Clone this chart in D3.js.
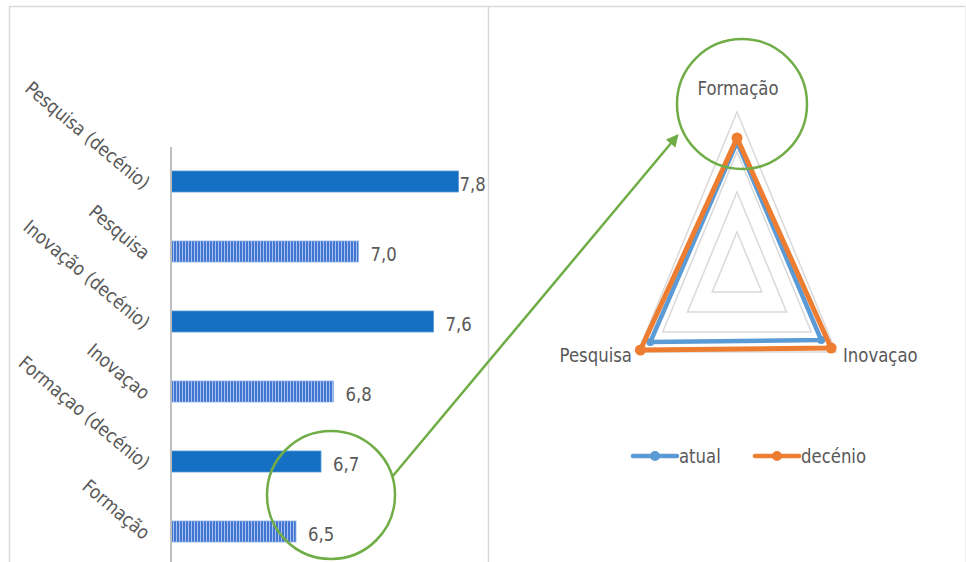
<!DOCTYPE html>
<html>
<head>
<meta charset="utf-8">
<script src="https://cdn.jsdelivr.net/npm/d3@7"></script>
<style>
  body { margin: 0; background: #fff; }
  text { font-family: "DejaVu Sans", sans-serif; fill: #595959; }
</style>
</head>
<body>
<svg id="chart" width="966" height="562"></svg>
<script>
// bar chart (left) - top to bottom
var barCategories = ['Pesquisa (decénio)', 'Pesquisa', 'Inovação (decénio)', 'Inovaçao', 'Formaçao (decénio)', 'Formação'];
var barValues = [7.8, 7.0, 7.6, 6.8, 6.7, 6.5];
var barIsDecenio = [true, false, true, false, true, false];

// radar chart (right)
var radarAxes = ['Formação', 'Inovaçao', 'Pesquisa'];
var radarAtual = [6.5, 6.8, 7.0];
var radarDecenio = [6.7, 7.6, 7.8];
var radarSeries = ['atual', 'decénio'];
var radarRings = [2, 4, 6, 8];

var svg = d3.select('#chart');
var fmt = function(v) { return d3.format('.1f')(v).replace('.', ','); };
var narrow = 0.87; // squeeze text a bit, the original font is a narrow one

// text placed at (x, y), squeezed horizontally around its anchor
function label(parent, px, py, txt, anchor, size) {
    return parent.append('text')
        .attr('transform', 'translate(' + px + ',' + py + ') scale(' + narrow + ',1)')
        .attr('text-anchor', anchor || 'start')
        .style('font-size', (size || 19) + 'px')
        .text(txt);
}

// frame lines
var frame = svg.append('g').attr('stroke', '#d9d9d9').attr('stroke-width', 1.5);
frame.append('line').attr('x1', 9).attr('x2', 966).attr('y1', 6.5).attr('y2', 6.5);
frame.append('line').attr('x1', 9.5).attr('x2', 9.5).attr('y1', 6).attr('y2', 562);
frame.append('line').attr('x1', 488.5).attr('x2', 488.5).attr('y1', 6).attr('y2', 562);
frame.append('line').attr('x1', 965.5).attr('x2', 965.5).attr('y1', 6).attr('y2', 562).attr('stroke', '#f0f0f0');

// stripe pattern for the non-decenio bars
var defs = svg.append('defs');
var pat = defs.append('pattern')
    .attr('id', 'stripes')
    .attr('patternUnits', 'userSpaceOnUse')
    .attr('width', 3).attr('height', 10);
pat.append('rect').attr('width', 3).attr('height', 10).attr('fill', '#a8c2ef');
pat.append('rect').attr('width', 2).attr('height', 10).attr('fill', '#4375d3');

defs.append('marker')
    .attr('id', 'arrow')
    .attr('viewBox', '0 0 10 10')
    .attr('refX', 8).attr('refY', 5)
    .attr('markerWidth', 5).attr('markerHeight', 5)
    .attr('orient', 'auto')
  .append('path')
    .attr('d', 'M0,0 L10,5 L0,10 z')
    .attr('fill', '#70ad47');

// ---- bar chart ----
var x = d3.scaleLinear().domain([5.5, 8.0]).range([171, 483.5]);
var y = d3.scaleBand().domain(barCategories).range([146.5, 566.5])
    .paddingInner(0.7).paddingOuter(0.35);

var bars = svg.append('g');
bars.selectAll('rect')
    .data(barValues)
  .enter()
  .append('rect')
    .attr('x', x(5.5))
    .attr('y', function(d, i) { return y(barCategories[i]); })
    .attr('width', function(d) { return x(d) - x(5.5); })
    .attr('height', y.bandwidth())
    .attr('fill', function(d, i) { return barIsDecenio[i] ? '#1570c4' : 'url(#stripes)'; })
    .attr('stroke', function(d, i) { return barIsDecenio[i] ? '#5b9bd5' : '#8fb0ea'; })
    .attr('stroke-width', 0.8);

barValues.forEach(function(d, i) {
    var lx = Math.min(x(d) + 12, x.range()[1] - 24);
    var ly = y(barCategories[i]) + y.bandwidth() / 2 + 9;
    label(bars, lx, ly, fmt(d), 'start', 19);
});

svg.append('line')
    .attr('x1', 171).attr('x2', 171)
    .attr('y1', 147).attr('y2', 562)
    .attr('stroke', '#bfbfbf').attr('stroke-width', 2);

svg.append('g').selectAll('text')
    .data(barCategories)
  .enter()
  .append('text')
    .attr('text-anchor', 'end')
    .style('font-size', '19px')
    .attr('transform', function(d) {
        var cy = y(d) + y.bandwidth() / 2;
        return 'translate(143,' + (cy + 9) + ') rotate(40) scale(' + narrow + ',1)';
    })
    .text(function(d) { return d; });

// ---- radar chart ----
var cx = 737, cy = 272, squash = 0.715;
var r = d3.scaleLinear().domain([0, 8]).range([0, 160]);
var angles = [-90, 30, 150];
function pt(v, i) {
    var a = angles[i] * Math.PI / 180;
    return [cx + r(v) * Math.cos(a) * squash, cy + r(v) * Math.sin(a)];
}
var radarLine = d3.line().curve(d3.curveLinearClosed);

svg.append('g').selectAll('path')
    .data(radarRings)
  .enter()
  .append('path')
    .attr('d', function(v) { return radarLine(angles.map(function(a, i) { return pt(v, i); })); })
    .attr('fill', 'none')
    .attr('stroke', '#d9d9d9')
    .attr('stroke-width', 1.5);

var seriesData = [radarAtual, radarDecenio];
var colors = ['#5b9bd5', '#ed7d31'];
var widths = [4.5, 5];

seriesData.forEach(function(vals, s) {
    var pts = vals.map(pt);
    var g = svg.append('g');
    g.append('path')
        .attr('d', radarLine(pts))
        .attr('fill', 'none')
        .attr('stroke', colors[s])
        .attr('stroke-width', widths[s])
        .attr('stroke-linejoin', 'round');
    g.selectAll('circle')
        .data(pts)
      .enter()
      .append('circle')
        .attr('cx', function(d) { return d[0]; })
        .attr('cy', function(d) { return d[1]; })
        .attr('r', s == 0 ? 4 : 5.5)
        .attr('fill', colors[s]);
});

var axisLabels = svg.append('g');
label(axisLabels, cx + 1, 95, radarAxes[0], 'middle', 19);
label(axisLabels, 843, 362, radarAxes[1], 'start', 19);
label(axisLabels, 632, 362, radarAxes[2], 'end', 19);

// legend
var legend = svg.append('g');
var legendX = [633, 755];
radarSeries.forEach(function(name, s) {
    var lx = legendX[s];
    legend.append('line')
        .attr('x1', lx).attr('x2', lx + 44)
        .attr('y1', 456).attr('y2', 456)
        .attr('stroke', colors[s]).attr('stroke-width', 4.5)
        .attr('stroke-linecap', 'round');
    legend.append('circle')
        .attr('cx', lx + 22).attr('cy', 456).attr('r', 5)
        .attr('fill', colors[s]);
    label(legend, lx + 46, 463, name, 'start', 19);
});

// green highlight circles and arrow
var hl = svg.append('g').attr('fill', 'none').attr('stroke', '#70ad47').attr('stroke-width', 2.5);
hl.append('circle').attr('cx', 331).attr('cy', 495).attr('r', 64);
hl.append('circle').attr('cx', 742).attr('cy', 104).attr('r', 65);
hl.append('line')
    .attr('x1', 392).attr('y1', 477)
    .attr('x2', 677).attr('y2', 136)
    .attr('marker-end', 'url(#arrow)');
</script>
</body>
</html>
